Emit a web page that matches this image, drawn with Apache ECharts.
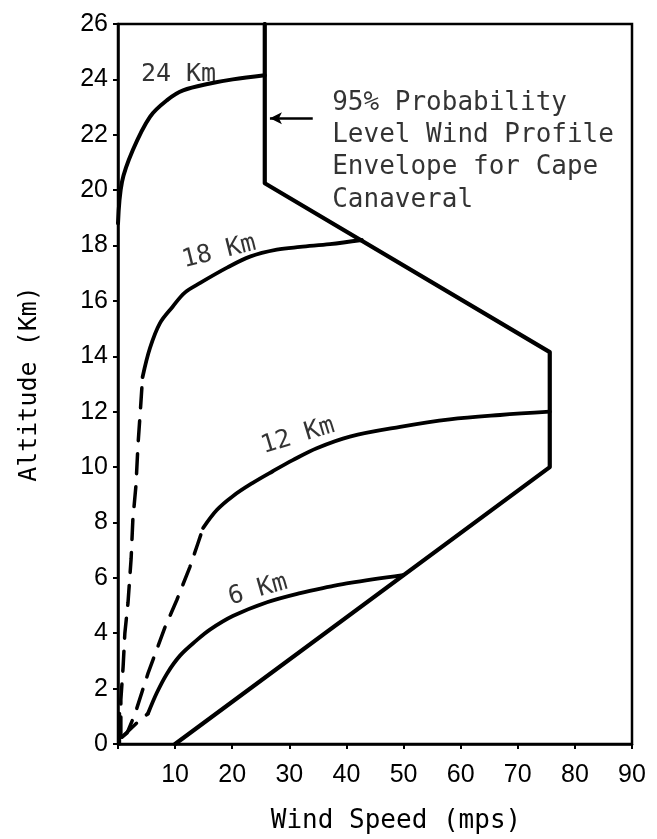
<!DOCTYPE html>
<html>
<head>
<meta charset="utf-8">
<script src="https://cdn.jsdelivr.net/npm/echarts@6.0.0/dist/echarts.min.js"></script>
<style>
  html, body { margin: 0; padding: 0; background: #fff; }
  #chart { width: 657px; height: 839px; }
</style>
</head>
<body>
<div id="chart"></div>
<script>
// 95% probability wind profile envelope (wind speed in m/s vs altitude in km)
const envelopeSpeed = [10, 75.6, 75.6, 25.7, 25.7];
const envelopeAlt   = [0, 10, 14.15, 20.25, 26];

// Synthetic profiles peaking at 24, 18, 12 and 6 km
const km24Speed = [0, 0.7, 2.6, 5.6, 8.6, 11.4, 16.1, 20.1, 25.7];
const km24Alt   = [18.8, 20.3, 21.45, 22.65, 23.25, 23.6, 23.85, 24.0, 24.15];

const km18DashSpeed = [0.5, 0.5, 0.9, 1.2, 1.75, 2.3, 2.6, 3.15, 3.5, 4.0, 4.3];
const km18DashAlt   = [0.25, 1.6, 2.8, 4.0, 5.1, 6.7, 8.1, 9.35, 10.8, 12.3, 13.25];
const km18Speed = [4.3, 5.6, 7.35, 9.6, 11.7, 14.4, 19.1, 23.1, 27.8, 31.9, 37.1, 42.7];
const km18Alt   = [13.25, 14.3, 15.2, 15.8, 16.3, 16.65, 17.2, 17.6, 17.85, 17.95, 18.05, 18.2];

const km12DashSpeed = [0.7, 1.6, 3.0, 5.25, 8.2, 10.3, 12.6, 14.0, 14.9];
const km12DashAlt   = [0.25, 0.4, 1.1, 2.55, 4.2, 5.2, 6.4, 7.25, 7.8];
const km12Speed = [14.9, 17.3, 20.1, 23.6, 27.1, 30.6, 34.8, 40.6, 49.4, 58.1, 66.9, 75.6];
const km12Alt   = [7.8, 8.45, 8.95, 9.43, 9.85, 10.25, 10.68, 11.1, 11.45, 11.72, 11.88, 12.0];

const km6DashSpeed = [0.7, 3.5, 5.25];
const km6DashAlt   = [0.25, 0.8, 1.1];
const km6Speed = [5.25, 6.8, 8.6, 10.9, 13.8, 16.1, 20.1, 26.1, 31.9, 37.1, 40.6, 49.9];
const km6Alt   = [1.1, 1.85, 2.55, 3.2, 3.75, 4.13, 4.62, 5.12, 5.45, 5.68, 5.82, 6.1];

const groundSpeed = [0.25, 0.25];
const groundAlt   = [0, 1.1];

const profileNames = ['24 Km', '18 Km', '12 Km', '6 Km'];
const envelopeNote = ['95% Probability', 'Level Wind Profile', 'Envelope for Cape', 'Canaveral'];

const pair = (xs, ys) => xs.map((x, i) => [x, ys[i]]);

const MONO = '"DejaVu Sans Mono", "Liberation Mono", monospace';
const SANS = '"Liberation Sans", Arial, sans-serif';

function curve(name, xs, ys, width, dashed, smooth) {
  return {
    name, type: 'line', data: pair(xs, ys),
    showSymbol: false, symbol: 'none', silent: true,
    smooth: smooth ? 0.35 : false,
    lineStyle: { color: '#000', width, type: dashed ? [20, 13] : 'solid', cap: 'round', join: 'round' },
    z: 3
  };
}

// anchors for the text placed along each profile (speed, altitude, angle)
const profileLabelAnchors = [
  [10.6, 24.16, 0],
  [17.7, 17.77, 14],
  [31.5, 11.12, 17],
  [24.5, 5.56, 16]
];

const chart = echarts.init(document.getElementById('chart'), null, { renderer: 'canvas' });

chart.setOption({
  animation: false,
  backgroundColor: '#fff',
  grid: { left: 118, right: 25, top: 24, bottom: 95, show: true, borderColor: '#000', borderWidth: 2.5 },
  xAxis: {
    type: 'value', min: 0, max: 90, interval: 10,
    axisLine: { show: true, lineStyle: { color: '#000', width: 2.5 } },
    axisTick: { show: true, length: 5, lineStyle: { color: '#000', width: 2 } },
    splitLine: { show: false },
    axisLabel: { color: '#000', fontFamily: SANS, fontSize: 25, margin: 19,
      formatter: v => (v === 0 ? '' : String(v)) },
    name: 'Wind Speed (mps)', nameLocation: 'middle', nameGap: 64,
    nameTextStyle: { color: '#000', fontFamily: MONO, fontSize: 26, padding: [0, 0, 0, 42] }
  },
  yAxis: {
    type: 'value', min: 0, max: 26, interval: 2,
    axisLine: { show: true, lineStyle: { color: '#000', width: 2.5 } },
    axisTick: { show: true, length: 5, lineStyle: { color: '#000', width: 2 } },
    splitLine: { show: false },
    axisLabel: { color: '#000', fontFamily: SANS, fontSize: 25, margin: 10 },
    name: 'Altitude (Km)', nameLocation: 'middle', nameGap: 76,
    nameTextStyle: { color: '#000', fontFamily: MONO, fontSize: 25 }
  },
  series: [
    curve('envelope', envelopeSpeed, envelopeAlt, 4.2, false, false),
    curve('24 km', km24Speed, km24Alt, 4, false, true),
    curve('ground', groundSpeed, groundAlt, 3.5, false, false),
    curve('18 km lower', km18DashSpeed, km18DashAlt, 3.5, true, false),
    curve('18 km', km18Speed, km18Alt, 3.8, false, true),
    curve('12 km lower', km12DashSpeed, km12DashAlt, 3.5, true, false),
    curve('12 km', km12Speed, km12Alt, 3.8, false, true),
    curve('6 km lower', km6DashSpeed, km6DashAlt, 3.5, true, false),
    curve('6 km', km6Speed, km6Alt, 3.8, false, true),
    {
      name: 'pointer', type: 'line', data: [], silent: true,
      markLine: {
        silent: true, symbol: ['none', 'arrow'], symbolSize: [9, 12],
        label: { show: false },
        lineStyle: { color: '#000', width: 2.5, type: 'solid' },
        data: [[{ coord: [34.1, 22.6] }, { coord: [26.6, 22.6] }]]
      }
    },
    {
      name: 'profile labels', type: 'scatter', symbolSize: 0, silent: true, z: 4,
      data: profileNames.map((n, i) => ({
        name: n,
        value: [profileLabelAnchors[i][0], profileLabelAnchors[i][1]],
        label: { rotate: profileLabelAnchors[i][2] }
      })),
      label: { show: true, position: 'inside', formatter: p => p.name,
        color: '#000', fontFamily: MONO, fontSize: 25 }
    },
    {
      name: 'note', type: 'scatter', symbolSize: 0, silent: true, z: 4,
      data: [[37.5, 21.4]],
      label: { show: true, position: 'right', distance: 0, align: 'left', verticalAlign: 'middle',
        formatter: () => envelopeNote.join('\n'), lineHeight: 32.3,
        color: '#000', fontFamily: MONO, fontSize: 26 }
    }
  ]
});
</script>
</body>
</html>
